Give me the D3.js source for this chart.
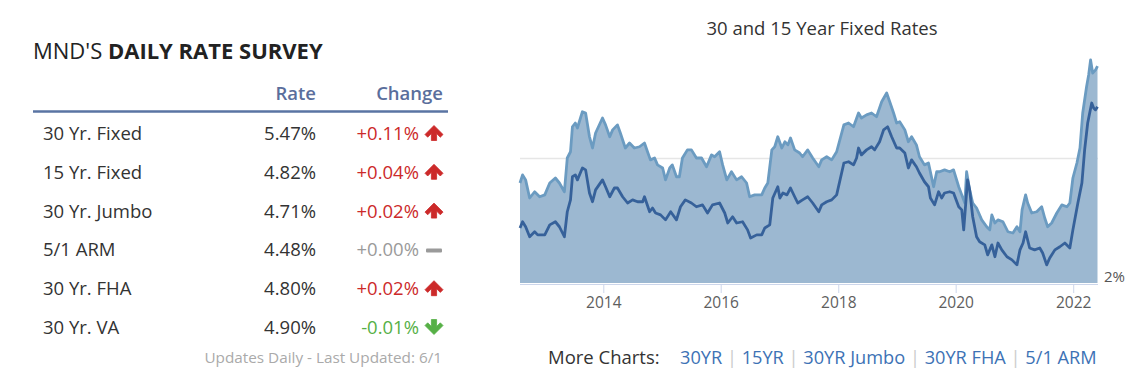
<!DOCTYPE html>
<html>
<head>
<meta charset="utf-8">
<script src="https://cdn.jsdelivr.net/npm/d3@7"></script>
<style>
  body { margin: 0; background: #fff; }
  svg { display: block; font-family: "Open Sans", sans-serif; }
</style>
</head>
<body>
<svg id="chart" width="1147" height="388"></svg>
<script>
// rate survey table
const products = ["30 Yr. Fixed", "15 Yr. Fixed", "30 Yr. Jumbo", "5/1 ARM", "30 Yr. FHA", "30 Yr. VA"];
const rates = ["5.47%", "4.82%", "4.71%", "4.48%", "4.80%", "4.90%"];
const changes = [0.11, 0.04, 0.02, 0.00, 0.02, -0.01];

// 30 year fixed
const dates30 = ["2012-08-01","2012-08-17","2012-09-05","2012-09-30","2012-10-31","2012-12-01","2013-01-02","2013-02-02","2013-03-09","2013-04-03",
  "2013-05-04","2013-05-22","2013-06-11","2013-06-23","2013-07-11","2013-07-24","2013-08-24","2013-09-13","2013-10-07","2013-10-26",
  "2013-11-14","2013-12-27","2014-01-15","2014-02-10","2014-02-28","2014-03-30","2014-04-17","2014-05-18","2014-06-13","2014-07-13",
  "2014-08-14","2014-09-14","2014-10-03","2014-10-21","2014-11-16","2014-12-04","2015-01-05","2015-01-23","2015-02-18","2015-03-06",
  "2015-04-01","2015-04-19","2015-05-08","2015-06-08","2015-07-03","2015-08-03","2015-09-04","2015-10-05","2015-11-05","2015-11-24",
  "2015-12-25","2016-01-13","2016-02-08","2016-03-08","2016-04-09","2016-05-10","2016-06-10","2016-06-29","2016-07-30","2016-09-12",
  "2016-10-01","2016-10-20","2016-11-14","2016-12-02","2016-12-21","2017-01-15","2017-02-03","2017-02-22","2017-03-10","2017-04-05",
  "2017-05-06","2017-05-24","2017-06-25","2017-07-26","2017-09-02","2017-09-20","2017-10-21","2017-11-21","2017-12-22","2018-02-05",
  "2018-03-06","2018-04-06","2018-05-07","2018-05-25","2018-06-26","2018-07-27","2018-08-27","2018-09-28","2018-10-29","2018-11-17",
  "2018-12-11","2018-12-30","2019-01-18","2019-02-19","2019-03-13","2019-04-02","2019-05-02","2019-05-21","2019-06-21","2019-07-16",
  "2019-08-17","2019-09-05","2019-09-23","2019-10-24","2019-11-25","2019-12-19","2020-01-20","2020-02-08","2020-02-27","2020-03-09",
  "2020-03-28","2020-04-16","2020-05-10","2020-06-11","2020-07-12","2020-07-31","2020-08-13","2020-09-01","2020-09-20","2020-10-21",
  "2020-11-21","2020-12-22","2021-01-16","2021-02-04","2021-02-17","2021-03-11","2021-03-24","2021-04-18","2021-05-19","2021-06-19",
  "2021-07-08","2021-07-26","2021-08-20","2021-09-21","2021-10-22","2021-11-23","2021-12-11","2021-12-30","2022-01-24","2022-02-12",
  "2022-03-01","2022-03-25","2022-04-07","2022-04-19","2022-05-02","2022-05-20","2022-06-01"];
const rate30 = [3.60,3.73,3.65,3.36,3.46,3.38,3.41,3.60,3.68,3.60,
  3.46,4.00,4.10,4.50,4.56,4.48,4.74,4.72,4.34,4.16,
  4.40,4.64,4.53,4.34,4.45,4.53,4.40,4.16,4.24,4.16,
  4.18,4.24,4.10,3.97,4.00,3.89,3.84,3.65,3.84,3.89,
  3.70,3.70,4.00,4.13,4.13,4.00,4.00,3.86,4.05,4.02,
  4.10,3.89,3.65,3.78,3.65,3.70,3.60,3.38,3.41,3.41,
  3.52,3.60,4.13,4.18,4.34,4.16,4.26,4.21,4.32,4.13,
  4.08,4.02,4.13,4.00,3.86,3.97,4.02,3.97,4.10,4.53,
  4.56,4.50,4.72,4.64,4.69,4.72,4.66,4.90,5.04,4.90,
  4.72,4.56,4.58,4.45,4.26,4.34,4.21,4.02,3.89,3.92,
  3.54,3.78,3.78,3.81,3.78,3.81,3.54,3.41,3.28,3.78,
  3.49,3.28,3.20,3.01,2.90,2.85,3.09,2.96,3.01,2.98,
  2.82,2.80,2.90,2.82,3.17,3.41,3.28,3.12,3.14,3.22,
  3.04,2.90,2.96,3.12,3.25,3.22,3.28,3.68,3.92,4.16,
  4.72,5.14,5.33,5.57,5.36,5.41,5.47];

// 15 year fixed
const dates15 = ["2012-08-01","2012-08-17","2012-09-05","2012-09-30","2012-10-31","2012-11-19","2013-01-02","2013-02-02","2013-03-09","2013-04-03",
  "2013-05-04","2013-05-22","2013-06-11","2013-06-23","2013-07-11","2013-07-24","2013-08-24","2013-09-13","2013-10-07","2013-10-26",
  "2013-11-14","2013-12-27","2014-01-15","2014-02-10","2014-03-11","2014-03-30","2014-05-01","2014-06-01","2014-07-02","2014-08-02",
  "2014-09-03","2014-09-14","2014-10-16","2014-11-03","2014-11-22","2014-12-23","2015-01-23","2015-02-24","2015-04-01","2015-04-26",
  "2015-05-26","2015-07-03","2015-08-03","2015-09-10","2015-10-11","2015-11-11","2015-12-25","2016-01-26","2016-02-14","2016-03-15",
  "2016-04-09","2016-05-16","2016-06-16","2016-07-05","2016-08-12","2016-09-12","2016-10-01","2016-11-01","2016-11-20","2016-12-21",
  "2017-01-03","2017-01-22","2017-02-16","2017-03-10","2017-04-05","2017-04-24","2017-05-24","2017-06-25","2017-07-26","2017-09-02",
  "2017-09-20","2017-10-21","2017-11-21","2017-12-22","2018-02-05","2018-03-06","2018-04-06","2018-04-25","2018-05-07","2018-05-25",
  "2018-06-26","2018-07-27","2018-08-15","2018-09-15","2018-10-10","2018-11-04","2018-11-29","2018-12-30","2019-01-18","2019-02-19",
  "2019-03-13","2019-04-02","2019-05-02","2019-05-21","2019-06-21","2019-07-16","2019-07-28","2019-08-23","2019-09-17","2019-10-06",
  "2019-10-24","2019-11-25","2019-12-19","2020-01-20","2020-02-08","2020-02-20","2020-03-15","2020-03-28","2020-04-16","2020-05-10",
  "2020-05-29","2020-06-30","2020-07-18","2020-08-13","2020-09-01","2020-09-20","2020-10-14","2020-11-15","2020-12-16","2021-01-16",
  "2021-02-04","2021-02-23","2021-03-11","2021-04-05","2021-05-06","2021-06-07","2021-06-25","2021-07-20","2021-08-08","2021-09-09",
  "2021-10-10","2021-11-10","2021-12-11","2021-12-30","2022-01-30","2022-02-24","2022-03-13","2022-04-01","2022-04-26","2022-05-08",
  "2022-05-20","2022-06-01"];
const rate15 = [2.88,2.98,2.90,2.74,2.82,2.77,2.77,2.93,2.98,2.90,
  2.74,3.14,3.33,3.70,3.73,3.65,3.84,3.81,3.44,3.30,
  3.49,3.65,3.54,3.38,3.52,3.52,3.38,3.28,3.33,3.30,
  3.30,3.38,3.14,3.20,3.12,3.09,3.01,3.14,3.01,3.22,
  3.33,3.28,3.22,3.25,3.12,3.25,3.28,3.12,2.96,3.06,
  2.96,2.98,2.85,2.72,2.77,2.77,2.88,2.93,3.36,3.54,
  3.36,3.44,3.41,3.52,3.38,3.28,3.33,3.38,3.28,3.14,
  3.25,3.30,3.33,3.41,3.92,3.94,3.89,4.00,4.16,4.05,
  4.13,4.18,4.13,4.26,4.45,4.50,4.34,4.16,4.16,4.08,
  3.84,3.97,3.86,3.76,3.62,3.54,3.36,3.25,3.46,3.36,
  3.44,3.46,3.44,3.22,3.17,2.85,3.65,3.49,3.06,2.74,
  2.66,2.61,2.45,2.61,2.42,2.64,2.53,2.42,2.37,2.29,
  2.53,2.64,2.82,2.56,2.53,2.56,2.48,2.29,2.40,2.53,
  2.58,2.64,2.56,2.85,3.28,3.60,4.13,4.56,4.88,4.80,
  4.77,4.82];

const yearTicks = ["2014-01-01", "2016-01-01", "2018-01-01", "2020-01-01", "2022-01-01"];
const gridRates = [4];
const rateLabels = [2];
const moreCharts = ["30YR", "15YR", "30YR Jumbo", "30YR FHA", "5/1 ARM"];

const parse = d3.timeParse("%Y-%m-%d");
const svg = d3.select("#chart");

// ---- left: rate table ----
const left = svg.append("g");
const title = left.append("text").attr("x", 33).attr("y", 59)
  .style("font-size", "22px").attr("fill", "#222");
title.append("tspan").text("MND'S ");
title.append("tspan").attr("font-weight", 700).text("DAILY RATE SURVEY");

left.append("text").attr("x", 316).attr("y", 100).attr("text-anchor", "end")
  .attr("font-weight", 600).style("font-size", "18.5px").attr("fill", "#5a6e9c").text("Rate");
left.append("text").attr("x", 443).attr("y", 100).attr("text-anchor", "end")
  .attr("font-weight", 600).style("font-size", "18.5px").attr("fill", "#5a6e9c").text("Change");
left.append("line").attr("x1", 33).attr("x2", 448).attr("y1", 111.5).attr("y2", 111.5)
  .attr("stroke", "#5a74a3").attr("stroke-width", 2.5);

const rowY = d3.scalePoint().domain(products).range([140, 334]);
const changeColor = v => v > 0 ? "#cc2a2a" : (v < 0 ? "#56b046" : "#9a9a9a");
const fmtChange = v => (v < 0 ? "-" : "+") + Math.abs(v).toFixed(2) + "%";

products.forEach((p, i) => {
  const y = rowY(p);
  const c = changes[i];
  left.append("text").attr("x", 43).attr("y", y).style("font-size", "18.5px").attr("fill", "#333").text(p);
  left.append("text").attr("x", 316).attr("y", y).attr("text-anchor", "end")
    .style("font-size", "18.5px").attr("fill", "#333").text(rates[i]);
  left.append("text").attr("x", 419).attr("y", y).attr("text-anchor", "end")
    .style("font-size", "18.5px").attr("fill", changeColor(c)).text(fmtChange(c));
  const icon = left.append("g").attr("transform", `translate(434,${y - 7})`).attr("fill", changeColor(c));
  if (c === 0) {
    icon.append("rect").attr("x", -8).attr("y", -1).attr("width", 16).attr("height", 4).attr("rx", 1);
  } else {
    const arrow = "M0,-7.5 L9,1.5 L6.3,4.2 L2.6,0.5 L2.6,7.5 L-2.6,7.5 L-2.6,0.5 L-6.3,4.2 L-9,1.5 Z";
    icon.append("path").attr("d", arrow).attr("transform", c < 0 ? "rotate(180)" : null)
      .attr("stroke", changeColor(c)).attr("stroke-width", 0.8).attr("stroke-linejoin", "round");
  }
});

left.append("text").attr("x", 442).attr("y", 363).attr("text-anchor", "end")
  .style("font-size", "15.3px").attr("fill", "#aaa").text("Updates Daily - Last Updated: 6/1");

// ---- right: chart ----
const x = d3.scaleTime().domain([parse(dates30[0]), parse(dates30[dates30.length - 1])]).range([520, 1097.5]);
const y = d3.scaleLinear().domain([2, 6]).range([283, 33]);

const s30 = dates30.map((d, i) => ({ date: parse(d), v: rate30[i] }));
const s15 = dates15.map((d, i) => ({ date: parse(d), v: rate15[i] }));

svg.append("text").attr("x", 822).attr("y", 35).attr("text-anchor", "middle")
  .style("font-size", "18.5px").attr("fill", "#333").text("30 and 15 Year Fixed Rates");

svg.append("g").selectAll("line").data(gridRates).join("line")
  .attr("x1", 520).attr("x2", 1098).attr("y1", d => y(d) + 0.5).attr("y2", d => y(d) + 0.5)
  .attr("stroke", "#e6e6e6").attr("stroke-width", 1.5);

const area = d3.area().x(d => x(d.date)).y0(y(2)).y1(d => y(d.v));
const line = d3.line().x(d => x(d.date)).y(d => y(d.v));

svg.append("path").datum(s30).attr("d", area).attr("fill", "#9cb8d1");
svg.append("path").datum(s30).attr("d", line).attr("fill", "none")
  .attr("stroke", "#6b9bc1").attr("stroke-width", 2.8).attr("stroke-linejoin", "round");
svg.append("path").datum(s15).attr("d", line).attr("fill", "none")
  .attr("stroke", "#36619a").attr("stroke-width", 2.8).attr("stroke-linejoin", "round");

const xAxis = svg.append("g").attr("transform", "translate(0,284)")
  .call(d3.axisBottom(x).tickValues(yearTicks.map(parse)).tickFormat(d3.timeFormat("%Y")).tickSize(9).tickPadding(4));
xAxis.select(".domain").attr("stroke", "#ccd6eb").attr("d", "M520,0.5H1098");
xAxis.selectAll(".tick line").attr("stroke", "#ccd6eb");
xAxis.selectAll(".tick text").style("font-size", "15.5px").attr("fill", "#5e5e5e").style("font-family", "Open Sans");

svg.append("g").selectAll("text").data(rateLabels).join("text")
  .attr("x", 1104).attr("y", d => y(d) - 1).style("font-size", "15px").attr("fill", "#555")
  .text(d => d + "%");

// more charts links
svg.append("text").attr("x", 548).attr("y", 364).style("font-size", "18.5px")
  .attr("fill", "#333").text("More Charts:");
const links = svg.append("text").attr("x", 680).attr("y", 364).style("font-size", "18.2px");
moreCharts.forEach((m, i) => {
  if (i > 0) links.append("tspan").attr("fill", "#ccc").text(" | ");
  links.append("tspan").attr("fill", "#3d72b5").text(m);
});
</script>
</body>
</html>
